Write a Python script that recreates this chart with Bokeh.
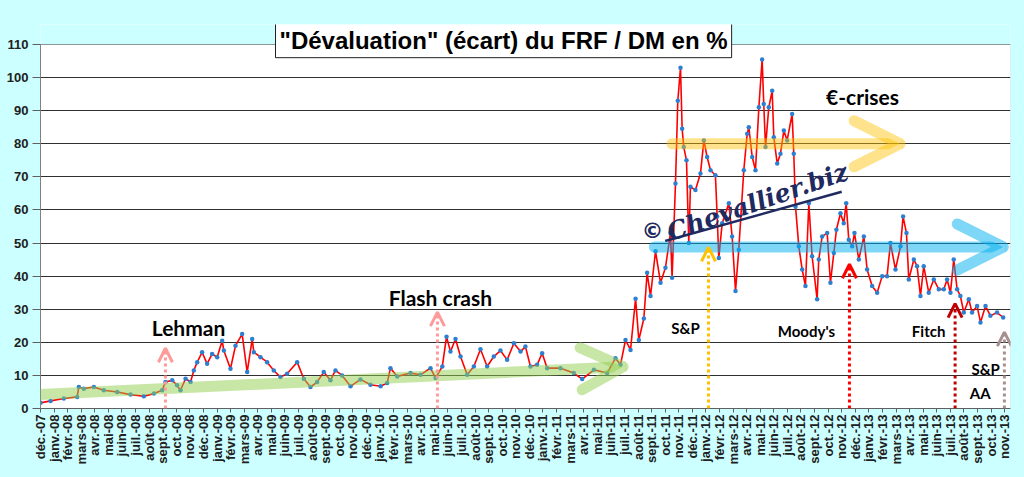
import math
from bokeh.plotting import figure
from bokeh.models import Range1d, FixedTicker, Arrow, OpenHead, Label, BoxAnnotation
from bokeh.embed import file_html
from bokeh.resources import INLINE

# ---------------- data ----------------
# months elapsed since 1 Dec 2007 (0 = déc.-07, 71 = nov.-13)
t_months = [
    0.00, 0.74, 1.72, 2.70, 2.82, 3.19, 3.93, 4.66, 5.65, 6.63, 7.61, 8.35, 8.96, 9.20, 9.70,
    10.06, 10.31, 10.68, 11.05, 11.29, 11.54, 11.90, 12.27, 12.64, 13.01, 13.38, 13.50, 13.99,
    14.36, 14.85, 15.22, 15.59, 15.71, 16.20, 16.69, 17.18, 17.67, 18.16, 18.90, 19.39, 19.88,
    20.37, 20.86, 21.35, 21.72, 22.21, 22.83, 23.56, 24.30, 25.04, 25.53, 25.77, 26.27, 27.25,
    27.99, 28.72, 29.09, 29.59, 29.90, 30.19, 30.56, 30.93, 31.42, 31.91, 32.40, 32.89, 33.38,
    33.87, 34.36, 34.86, 35.35, 35.71, 36.08, 36.57, 36.94, 37.31, 38.29, 39.27, 39.89, 40.75,
    41.73, 42.34, 42.71, 43.08, 43.45, 43.82, 44.06, 44.43, 44.67, 44.92, 45.29, 45.66, 46.02,
    46.39, 46.51, 46.76, 46.93, 47.13, 47.25, 47.37, 47.57, 47.74, 47.86, 48.23, 48.60, 48.85,
    49.09, 49.34, 49.70, 49.83, 49.95, 50.20, 50.69, 50.93, 51.18, 51.42, 51.79, 52.04, 52.16,
    52.41, 52.65, 52.90, 53.14, 53.26, 53.39, 53.63, 53.88, 54.00, 54.25, 54.49, 54.74, 54.98,
    55.35, 55.47, 55.60, 55.84, 56.09, 56.33, 56.58, 56.82, 57.19, 57.31, 57.56, 57.93, 58.17,
    58.42, 58.61, 58.91, 59.15, 59.33, 59.52, 59.77, 59.94, 60.26, 60.63, 60.87, 61.24, 61.61,
    61.98, 62.34, 62.59, 62.96, 63.33, 63.52, 63.77, 63.94, 64.31, 64.55, 64.80, 65.04, 65.41,
    65.78, 66.15, 66.52, 66.76, 67.01, 67.25, 67.50, 67.74, 67.99, 68.36, 68.60, 68.97, 69.22,
    69.59, 69.95, 70.44, 70.89,
]
ecart_pct = [
    1.7, 2.3, 3.0, 3.5, 6.5, 6.0, 6.5, 5.5, 5.0, 4.2, 3.7, 4.5, 5.5, 8.0, 8.5,
    7.0, 5.5, 9.0, 8.0, 11.5, 14.0, 17.0, 13.5, 16.5, 15.5, 20.5, 17.5, 12.0,
    19.0, 22.5, 11.0, 21.0, 17.0, 15.5, 14.0, 11.5, 9.5, 10.5, 14.0, 9.0, 6.5,
    8.0, 11.0, 8.5, 11.5, 10.0, 6.7, 8.8, 7.2, 6.7, 7.7, 12.2, 9.7, 10.7,
    10.2, 12.2, 9.2, 12.7, 21.7, 17.2, 21.0, 15.7, 10.2, 12.7, 17.9, 12.7, 15.7,
    17.5, 14.7, 19.7, 17.2, 18.7, 12.7, 13.2, 16.7, 12.2, 12.2, 10.7, 8.9, 11.7,
    10.7, 15.2, 13.2, 20.7, 17.7, 33.2, 20.7, 27.2, 41.0, 34.0, 47.5, 38.0, 42.5,
    53.0, 39.5, 68.0, 93.0, 103.0, 84.5, 79.0, 75.0, 50.0, 67.0, 66.0, 71.0, 81.0,
    76.0, 72.0, 70.5, 58.0, 45.5, 56.0, 62.0, 52.0, 35.5, 48.0, 72.0, 83.0, 85.0,
    76.0, 72.0, 91.0, 105.5, 92.0, 79.0, 91.0, 96.0, 82.0, 74.0, 77.0, 84.0, 81.0,
    89.0, 77.0, 61.0, 49.0, 42.0, 37.0, 62.0, 46.0, 33.0, 45.0, 52.0, 53.0, 38.0,
    47.0, 54.0, 59.0, 56.0, 62.0, 51.0, 49.0, 53.0, 45.0, 52.0, 42.0, 37.0, 35.0,
    40.0, 40.0, 50.0, 42.0, 49.0, 58.0, 53.0, 39.0, 45.0, 43.0, 34.0, 43.0, 35.0,
    39.0, 36.0, 36.0, 39.0, 35.0, 45.0, 36.0, 34.0, 29.0, 33.0, 29.0, 31.0, 26.0,
    31.0, 28.0, 29.0, 27.5,
]

# x tick labels (one per month, déc.-07 .. nov.-13)
month_names = ["déc.", "janv.", "févr.", "mars", "avr.", "mai", "juin",
               "juil.", "août", "sept.", "oct.", "nov."]
n_months = 72
tick_labels = [f"{month_names[i % 12]}-{7 + (i + 11) // 12:02d}" for i in range(n_months)]
y_ticks = [0, 10, 20, 30, 40, 50, 60, 70, 80, 90, 100, 110]
y_max = 110

# rating / event markers
event_month = [9.2, 29.23, 49.19, 59.57, 67.35, 70.98]
event_top = [18.2, 29.1, 48.7, 43.6, 31.7, 23.1]
event_color = ["#FF9A9A", "#FF9A9A", "#FFC000", "#FF0000", "#C00000", "#A89090"]

# ---------------- figure ----------------
BG = "#CCFFFF"
X_END = 71.43
Y_TOP = 116.04  # extra head-room inside the frame for the title box
p = figure(width=1024, height=477, output_backend="svg", toolbar_location=None,
           x_range=Range1d(0, X_END), y_range=Range1d(0, Y_TOP),
           min_border_left=40, min_border_right=14, min_border_top=24, min_border_bottom=69,
           border_fill_color=BG, background_fill_color="white",
           outline_line_color=None)

# cyan strip above the 110 line (outside the real plot area)
p.add_layout(BoxAnnotation(bottom=y_max, fill_color=BG, fill_alpha=1, line_color=None,
                           level="underlay"))
# plot-area frame
p.add_layout(BoxAnnotation(left=0, right=X_END, bottom=0, top=y_max, fill_alpha=0,
                           line_color="#A0A0A0", line_width=1, level="underlay"))

p.xgrid.grid_line_color = None
p.ygrid.grid_line_color = "#303030"
p.ygrid.grid_line_width = 1
p.ygrid.ticker = FixedTicker(ticks=y_ticks)

p.yaxis.ticker = FixedTicker(ticks=y_ticks)
p.yaxis.bounds = (0, y_max)
p.yaxis.axis_line_color = "#808080"
p.yaxis.major_tick_line_color = "#606060"
p.yaxis.major_tick_out = 8
p.yaxis.major_tick_in = 0
p.yaxis.minor_tick_line_color = None
p.yaxis.major_label_standoff = 4
p.yaxis.major_label_text_font = "Liberation Sans"
p.yaxis.major_label_text_font_style = "bold"
p.yaxis.major_label_text_font_size = "13px"
p.yaxis.major_label_text_color = "#202020"

p.xaxis.ticker = FixedTicker(ticks=list(range(n_months)))
p.xaxis.major_label_overrides = {i: tick_labels[i] for i in range(n_months)}
p.xaxis.major_label_orientation = math.pi / 2
p.xaxis.axis_line_color = "#606060"
p.xaxis.major_tick_line_color = "#606060"
p.xaxis.major_tick_out = 4
p.xaxis.major_tick_in = 0
p.xaxis.minor_tick_line_color = None
p.xaxis.major_label_standoff = 2
p.xaxis.major_label_text_font = "Liberation Sans"
p.xaxis.major_label_text_font_style = "bold"
p.xaxis.major_label_text_font_size = "13px"
p.xaxis.major_label_text_color = "#202020"

# data series
p.line(t_months, ecart_pct, line_color="#FF0000", line_width=1.6)
p.scatter(t_months, ecart_pct, size=4.5, fill_color="#2F7FD0", line_color=None)

# watermark underline
p.segment(x0=[46.0], y0=[50.6], x1=[59.0], y1=[65.5], line_color="#1F2A60", line_width=2.5)

# thick translucent trend arrows
def big_arrow(x0, y0, x1, y1, color, alpha, size):
    p.add_layout(Arrow(x_start=x0, y_start=y0, x_end=x1, y_end=y1,
                       line_color=color, line_alpha=alpha, line_width=11, line_cap="round",
                       end=OpenHead(size=size, line_color=color, line_alpha=alpha,
                                    line_width=11, line_cap="round")))

big_arrow(0, 4.2, 42.9, 12.6, "#92D050", 0.5, 42)
big_arrow(46.5, 80, 63.3, 80, "#FFC000", 0.45, 46)
big_arrow(45.2, 48.8, 70.9, 48.8, "#00B0F0", 0.5, 46)

# dotted event arrows
for xm, top, col in zip(event_month, event_top, event_color):
    p.add_layout(Arrow(x_start=xm, y_start=0, x_end=xm, y_end=top,
                       line_color=col, line_width=3, line_dash="3 3",
                       end=OpenHead(size=14, line_color=col, line_width=3)))

# event labels
def lab(txt, x, y, size, font="Lato", color="black"):
    p.add_layout(Label(x=x, y=y, text=txt, text_font=font, text_font_style="bold",
                       text_font_size=size, text_color=color, text_align="center",
                       text_baseline="middle"))

lab("Lehman", 10.9, 24.6, "21px")
lab("Flash crash", 29.45, 33.6, "21px")
lab("€-crises", 60.53, 94.3, "21px")
lab("S&P", 47.5, 24.2, "15px")
lab("Moody's", 56.4, 23.3, "15px")
lab("Fitch", 65.4, 23.3, "15px")
lab("S&P", 69.6, 11.9, "15px")
lab("AA", 69.2, 4.6, "15px")

# watermark
p.add_layout(Label(x=45.07, y=53.9, text="©", text_font="DejaVu Sans", text_font_style="bold",
                   text_font_size="22px", text_color="#1F2A60", text_align="center",
                   text_baseline="middle"))
p.add_layout(Label(x=46.2, y=53.0, text="Chevallier.biz", text_font="DejaVu Serif",
                   text_font_style="bold italic", text_font_size="25px", text_color="#1F2A60",
                   angle=0.335, text_align="left", text_baseline="alphabetic"))

# title box with shadow
title = "\"Dévaluation\" (écart) du FRF / DM en %"
p.add_layout(Label(x=34.1, y=111.3, text=title, text_font="Liberation Sans",
                   text_font_style="bold", text_font_size="24px", text_alpha=0,
                   text_align="center", text_baseline="middle", x_offset=3, y_offset=-3,
                   background_fill_color="#808080", background_fill_alpha=0.45, padding=4))
p.add_layout(Label(x=34.1, y=111.3, text=title, text_font="Liberation Sans",
                   text_font_style="bold", text_font_size="24px", text_color="black",
                   text_align="center", text_baseline="middle",
                   background_fill_color="white", border_line_color="#202020",
                   border_line_width=1, padding=4))

html = file_html(p, INLINE, title="FRF / DM")
html = html.replace("<head>", "<head><style>body{background:#CCFFFF;}</style>", 1)
open("out.html", "w").write(html)
